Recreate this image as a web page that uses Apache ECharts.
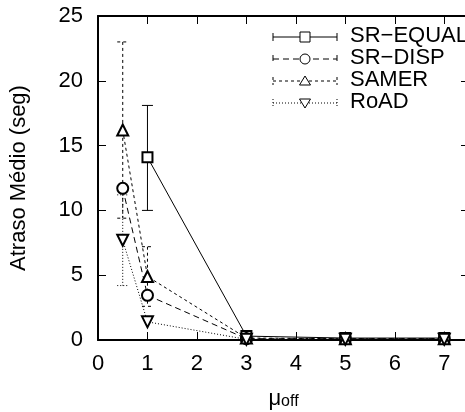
<!DOCTYPE html>
<html><head><meta charset="utf-8">
<script src="https://cdn.jsdelivr.net/npm/echarts@6/dist/echarts.min.js"></script>
<style>html,body{margin:0;padding:0;background:#fff}#c{width:465px;height:412px}</style>
</head><body><div id="c"></div>
<script>
const seriesNames = ['SR\u2212EQUAL', 'SR\u2212DISP', 'SAMER', 'RoAD'];
const xEqual = [1, 3, 5, 7];
const yEqual = [14.1, 0.3, 0.15, 0.15];
const xOthers = [0.5, 1, 3, 5, 7];
const yDisp = [11.7, 3.45, 0.1, 0.1, 0.1];
const ySamer = [16.2, 4.9, 0.15, 0.1, 0.1];
const yRoad = [7.7, 1.4, 0.05, 0.05, 0.05];
// error bars: [x, low, high]
const errEqual = [[1, 10.0, 18.1]];
const errDisp = [];
const errSamer = [[0.5, 9.4, 23.0], [1, 2.6, 7.2]];
const errRoad = [[0.5, 4.2, 11.2]];
const xTicks = [0, 1, 2, 3, 4, 5, 6, 7];
const yTicks = [0, 5, 10, 15, 20, 25];

const dashes = [null, [6, 4], [3, 3], [1, 2]];
const symbols = ['emptyRect', 'emptyCircle', 'emptyTriangle', 'emptyTriangle'];
const symRot = [0, 0, 0, 180];
const FONT = 'Liberation Sans, Arial, sans-serif';
const FS = 22;

function pairs(xs, ys) { return xs.map((x, i) => [x, ys[i]]); }
const lineData = [pairs(xEqual, yEqual), pairs(xOthers, yDisp), pairs(xOthers, ySamer), pairs(xOthers, yRoad)];
const errData = [errEqual, errDisp, errSamer, errRoad];

const series = [];
lineData.forEach((d, i) => {
  series.push({
    type: 'line', name: seriesNames[i], data: d,
    symbol: symbols[i], symbolSize: i === 0 ? 10 : 11, symbolRotate: symRot[i],
    lineStyle: { color: '#000', width: 1, type: dashes[i] || 'solid' },
    itemStyle: { color: '#000', borderColor: '#000', borderWidth: 1 },
    animation: false, z: 3
  });
  series.push({
    type: 'custom', data: errData[i], clip: true, animation: false, z: 2,
    renderItem: function (params, api) {
      const x = api.value(0), lo = api.value(1), hi = api.value(2);
      const p1 = api.coord([x, hi]), p2 = api.coord([x, lo]);
      const w = 5.5;
      const st = { stroke: '#000', lineWidth: 1, lineDash: dashes[i] || null };
      return { type: 'group', children: [
        { type: 'line', shape: { x1: p1[0], y1: p1[1], x2: p2[0], y2: p2[1] }, style: st },
        { type: 'line', shape: { x1: p1[0] - w, y1: p1[1], x2: p1[0] + w, y2: p1[1] }, style: st },
        { type: 'line', shape: { x1: p2[0] - w, y1: p2[1], x2: p2[0] + w, y2: p2[1] }, style: st }
      ]};
    }
  });
});

// legend drawn as graphic
const graphic = [];
const legY = [37, 59, 81, 103];
legY.forEach((y, i) => {
  const st = { stroke: '#000', lineWidth: 1, lineDash: dashes[i] || null, fill: null };
  graphic.push({ type: 'line', shape: { x1: 273, y1: y, x2: 337, y2: y }, style: st });
  graphic.push({ type: 'line', shape: { x1: 273, y1: y - 4, x2: 273, y2: y + 4 }, style: st });
  graphic.push({ type: 'line', shape: { x1: 337, y1: y - 4, x2: 337, y2: y + 4 }, style: st });
  const ms = { stroke: '#000', lineWidth: 1, fill: '#fff' };
  if (i === 0) graphic.push({ type: 'rect', shape: { x: 300, y: y - 5, width: 10, height: 10 }, style: ms });
  if (i === 1) graphic.push({ type: 'circle', shape: { cx: 305, cy: y, r: 5 }, style: ms });
  if (i === 2) graphic.push({ type: 'polygon', shape: { points: [[305, y - 5], [299.5, y + 4], [310.5, y + 4]] }, style: ms });
  if (i === 3) graphic.push({ type: 'polygon', shape: { points: [[305, y + 5], [299.5, y - 4], [310.5, y - 4]] }, style: ms });
  graphic.push({ type: 'text', left: 350, top: y - 12, style: { text: seriesNames[i], font: FS + 'px ' + FONT, fill: '#000' } });
});

const axLine = { show: true, onZero: false, lineStyle: { color: '#000', width: 2 } };
const chart = echarts.init(document.getElementById('c'), null, { renderer: 'canvas' });
chart.setOption({
  animation: false,
  backgroundColor: '#fff',
  grid: { left: 98, top: 16, bottom: 72, right: -4, outerBoundsMode: 'none', containLabel: false },
  xAxis: [{
    type: 'value', min: 0, max: 7.5, interval: 1, position: 'bottom',
    axisLine: axLine, splitLine: { show: false },
    axisTick: { inside: true, length: 8, lineStyle: { color: '#000', width: 1 } },
    axisLabel: { color: '#000', fontSize: FS, fontFamily: FONT, margin: 13,
      formatter: v => xTicks.includes(v) ? String(v) : '' },
    name: '{mu|\u03bc}{sub|off}', nameLocation: 'middle', nameGap: 42,
    nameTextStyle: { rich: {
      mu: { fontSize: FS, fontFamily: FONT, color: '#000', verticalAlign: 'bottom' },
      sub: { fontSize: 16, fontFamily: FONT, color: '#000', padding: [12, 0, 0, 0], verticalAlign: 'bottom' } } }
  }, {
    type: 'value', min: 0, max: 7.5, interval: 1, position: 'top',
    axisLine: axLine, splitLine: { show: false },
    axisTick: { inside: true, length: 8, lineStyle: { color: '#000', width: 1 } },
    axisLabel: { show: false }
  }],
  yAxis: [{
    type: 'value', min: 0, max: 25, interval: 5, position: 'left',
    axisLine: axLine, splitLine: { show: false },
    axisTick: { inside: true, length: 8, lineStyle: { color: '#000', width: 1 } },
    axisLabel: { color: '#000', fontSize: FS, fontFamily: FONT, margin: 15,
      formatter: v => yTicks.includes(v) ? String(v) : '' },
    name: 'Atraso M\u00e9dio (seg)', nameLocation: 'middle', nameGap: 68, nameRotate: 90,
    nameTextStyle: { color: '#000', fontSize: FS, fontFamily: FONT }
  }, {
    type: 'value', min: 0, max: 25, interval: 5, position: 'right',
    axisLine: axLine, splitLine: { show: false },
    axisTick: { inside: true, length: 8 }, axisLabel: { show: false }
  }],
  graphic: graphic,
  series: series
});
</script></body></html>
